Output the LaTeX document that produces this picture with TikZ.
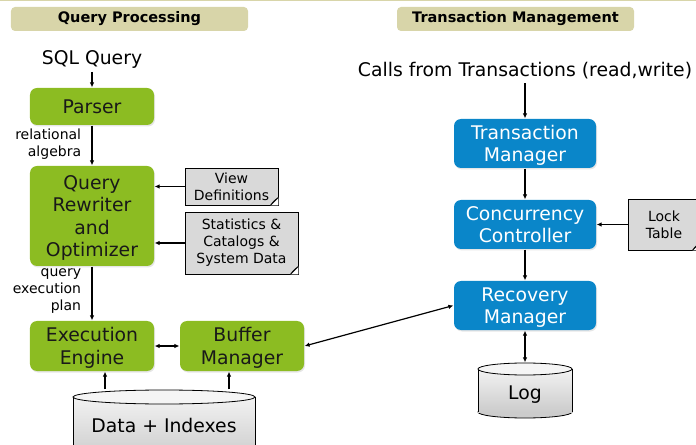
\documentclass[tikz,border=0pt]{standalone}
\usepackage{fontspec}
\setmainfont{DejaVu Sans}
\usetikzlibrary{arrows.meta,shadows,calc}
\definecolor{qgreen}{HTML}{8CBC22}
\definecolor{tblue}{HTML}{0A86C9}
\definecolor{hdrtan}{HTML}{D8D5A9}
\definecolor{docgray}{HTML}{D9D9D9}
\newcommand\mainsize{\fontsize{18.8bp}{22.5bp}\selectfont}
\newcommand\notesize{\fontsize{14bp}{17bp}\selectfont}
\newcommand\hdrsize{\fontsize{14.5bp}{16bp}\selectfont\bfseries}
\begin{document}
\begin{tikzpicture}[x=1bp,y=-1bp,line width=1.2bp,>={Latex[length=5bp,width=4.5bp]},
    grn/.style={fill=qgreen,rounded corners=7bp,minimum width=124bp,align=center,text depth=0pt,
        font=\mainsize,text=black!90,drop shadow={opacity=0.2,shadow xshift=1bp,shadow yshift=-1.5bp}},
    blu/.style={fill=tblue,rounded corners=7bp,minimum width=142bp,minimum height=49bp,align=center,text depth=0pt,
        font=\mainsize,text=white,drop shadow={opacity=0.2,shadow xshift=1bp,shadow yshift=-1.5bp}},
    doc/.style={draw,line width=0.8bp,fill=docgray,align=center,font=\notesize,inner sep=0pt},
    hdr/.style={fill=hdrtan,rounded corners=4bp,minimum width=237bp,minimum height=24bp,font=\hdrsize},
    lbl/.style={align=right,anchor=east,font=\notesize}]
    \clip (0,0) rectangle (696,445);
    \draw[hdrtan,line width=1.5bp] (0,0.5) -- (696,0.5);
    % headers
    \node[hdr] (qphdr) at (129.5,19) {Query Processing};
    \node[hdr] (tmhdr) at (515.5,19) {Transaction Management};
    % query processing side
    \node[font=\mainsize] (sql) at (92,59) {SQL Query};
    \node[grn,minimum height=37bp] (parser) at (92,106.5) {Parser};
    \node[grn,minimum height=100bp] (qro) at (92,216) {Query\\Rewriter\\and\\Optimizer};
    \node[grn,minimum height=50bp] (exec) at (92,346) {Execution\\Engine};
    \node[grn,minimum height=50bp] (buffer) at (242,346) {Buffer\\Manager};
    \node[doc,minimum width=93bp,minimum height=37bp] (view) at (231.5,186.5) {View\\Definitions};
    \node[doc,minimum width=113bp,minimum height=62bp] (stats) at (241.5,243) {Statistics \&\\Catalogs \&\\System Data};
    \node[lbl] (ralg) at (85,144) {relational\\algebra};
    \node[lbl] (qep) at (85,291) {query\\execution\\plan};
    % transaction side
    \node[font=\mainsize] (calls) at (525,71) {Calls from Transactions (read,write)};
    \node[blu] (tm) at (525,143.5) {Transaction\\Manager};
    \node[blu] (cc) at (525,224.5) {Concurrency\\Controller};
    \node[blu] (rm) at (525,305.5) {Recovery\\Manager};
    \node[doc,minimum width=72bp,minimum height=51bp] (lock) at (664,224.5) {Lock\\Table};
    % folded corners
    \foreach \n in {view,stats,lock}
        {\fill[white] ([xshift=-8bp]\n.south east) -- (\n.south east) -- ([yshift=8bp]\n.south east) -- cycle;
         \draw[line width=0.8bp,fill=docgray!70] ([xshift=-8bp]\n.south east) .. controls ([xshift=-5bp,yshift=4bp]\n.south east) and ([xshift=-3bp,yshift=6bp]\n.south east) .. ([yshift=8bp]\n.south east) -- cycle;
        }
    % cylinders
    \filldraw[line width=0.8bp,fill=gray!40] (164,458) ellipse[x radius=91,y radius=7];
    \fill[top color=gray!10,bottom color=gray!40] (73,397) rectangle (255,458);
    \draw[line width=0.8bp] (73,397) -- (73,458) (255,397) -- (255,458);
    \filldraw[line width=0.8bp,fill=gray!8] (164,397) ellipse[x radius=91,y radius=7];
    \node[minimum width=182bp,minimum height=70bp,font=\mainsize] (data) at (164,425) {Data + Indexes};
    \filldraw[line width=0.8bp,fill=gray!40] (525,412) ellipse[x radius=47,y radius=6];
    \fill[top color=gray!10,bottom color=gray!40] (478,369) rectangle (572,412);
    \draw[line width=0.8bp] (478,369) -- (478,412) (572,369) -- (572,412);
    \filldraw[line width=0.8bp,fill=gray!8] (525,369) ellipse[x radius=47,y radius=6];
    \node[minimum width=94bp,minimum height=64bp,font=\mainsize] (log) at (525,395) {Log};
    % connectors
    \draw[->] (sql) -- (parser);
    \draw[->] (parser) -- (qro);
    \draw[->] (qro) -- (exec);
    \draw[->] (view.west) -- (view.west -| qro.east);
    \draw[->] (stats.west) -- (stats.west -| qro.east);
    \draw[<->] (exec) -- (buffer);
    \coordinate (dl) at ($(data.north)+(-59,0)$);
    \coordinate (dr) at ($(data.north)+(65,0)$);
    \draw[->] (dl) -- (dl |- exec.south);
    \draw[->] (dr) -- (dr |- buffer.south);
    \draw[<->] (buffer.east) -- (rm.west);
    \draw[->] (calls) -- (tm);
    \draw[->] (tm) -- (cc);
    \draw[->] (lock.west) -- (cc.east);
    \draw[->] (cc) -- (rm);
    \draw[<->] (rm.south) -- (log.north);
\end{tikzpicture}
\end{document}
